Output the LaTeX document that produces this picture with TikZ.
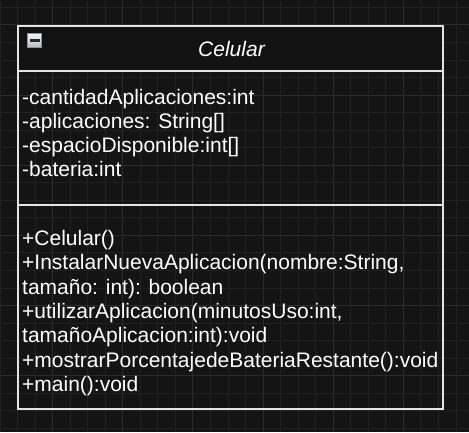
\documentclass[tikz,border=0pt]{standalone}
\usepackage{fontspec}
\setmainfont{Liberation Sans}
\definecolor{bgc}{HTML}{141414}
\definecolor{minorc}{HTML}{202020}
\definecolor{majorc}{HTML}{2B2B2B}
\definecolor{headc}{HTML}{121212}
\definecolor{edgec}{HTML}{E4E4E4}
\definecolor{iconedge}{HTML}{8C919C}
\begin{document}
\begin{tikzpicture}[x=1pt,y=-1pt,
  member/.style={anchor=base west, inner sep=0pt, text=white, font=\fontsize{21}{24}\selectfont},
  title/.style={anchor=base, inner sep=0pt, text=white, font=\fontsize{21}{24}\selectfont\itshape},
  minorline/.style={draw=minorc, line width=1pt},
  majorline/.style={draw=majorc, line width=1pt},
  boxedge/.style={draw=edgec, line width=2pt},
  sepline/.style={draw=edgec, line width=2.2pt},
  sepline2/.style={draw=edgec, line width=1.4pt}]
\useasboundingbox (0,0) rectangle (469,432);
\fill[bgc] (0,0) rectangle (469,432);
% grid
\foreach \k in {0,...,26} \path[minorline] (17.54*\k,0) -- (17.54*\k,432);
\foreach \k in {0,...,24} \path[minorline] (0,7.4+17.54*\k) -- (469,7.4+17.54*\k);
\foreach \k in {3,7,...,23} \path[majorline] (17.54*\k,0) -- (17.54*\k,432);
\foreach \k in {1,5,...,21} \path[majorline] (0,7.4+17.54*\k) -- (469,7.4+17.54*\k);
% class box
\coordinate (tl) at (18,26);
\coordinate (br) at (443,409);
\fill[headc] (18,26) rectangle (443,71);
\draw[boxedge] (tl) rectangle (br);
\draw[sepline] (18,71) -- (443,71);
\draw[sepline2] (18,205) -- (443,205);
% collapse icon
\node[draw=iconedge, line width=1.2pt, minimum size=14pt, inner sep=0pt,
      top color=white!92!gray, bottom color=gray!55!white, anchor=center] (icon) at (34.5,40.5) {};
\fill[black!85] ([xshift=-5pt,yshift=-1pt]icon.center) rectangle ([xshift=5pt,yshift=1.2pt]icon.center);
% title
\node[title] (ttl) at (231.5,56) {Celular};
% attributes
\node[member] (a1) at (22,104) {-cantidadAplicaciones:int};
\node[member] (a2) at (22,128.2) {-aplicaciones: String[]};
\node[member] (a3) at (22,152.4) {-espacioDisponible:int[]};
\node[member] (a4) at (22,176.6) {-bateria:int};
% methods
\node[member] (m1) at (22,245.6) {+Celular()};
\node[member] (m2) at (22,269.9) {+InstalarNuevaAplicacion(nombre:String,};
\node[member] (m3) at (22,294.2) {tamaño: int): boolean};
\node[member] (m4) at (22,318.5) {+utilizarAplicacion(minutosUso:int,};
\node[member] (m5) at (22,342.8) {tamañoAplicacion:int):void};
\node[member] (m6) at (22,367.1) {+mostrarPorcentajedeBateriaRestante():void};
\node[member] (m7) at (22,391.4) {+main():void};
\end{tikzpicture}
\end{document}
